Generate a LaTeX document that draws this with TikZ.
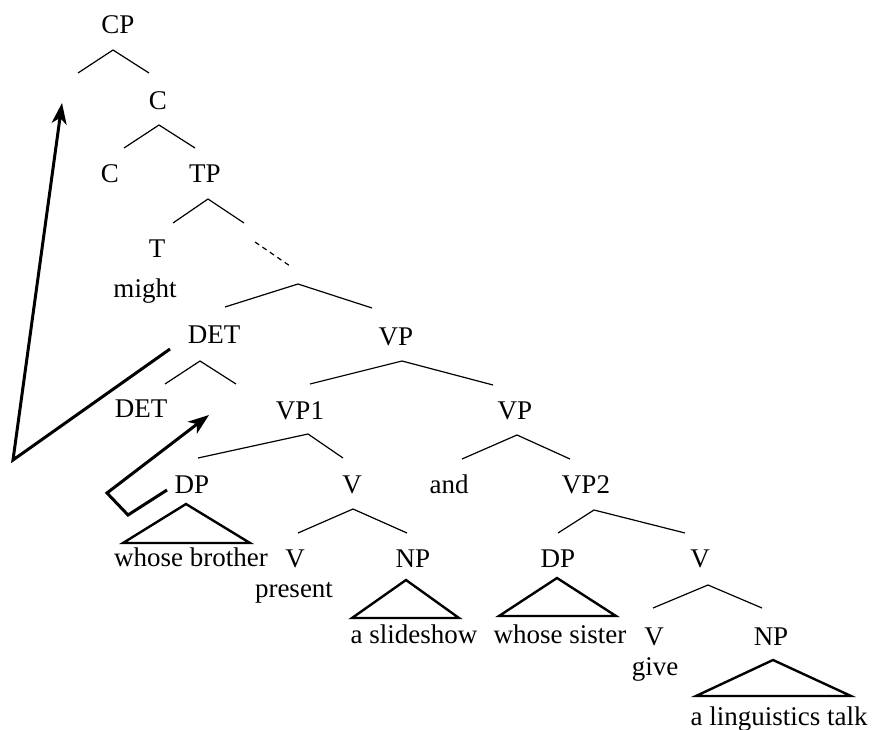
\documentclass[tikz,border=0pt]{standalone}
\usepackage{fontspec}
\setmainfont{Liberation Serif}
\usepackage{tikz}
\usetikzlibrary{arrows.meta}

\begin{document}
\begin{tikzpicture}[x=1pt, y=-1pt,
  lab/.style={anchor=base, inner sep=0pt, font=\fontsize{27}{32}\selectfont},
  branch/.style={line width=1.2pt},
  tri/.style={line width=2.4pt, line join=miter},
  move/.style={line width=3pt, line join=miter, -{Stealth[length=21pt, width=15pt, inset=6pt]}}]
  \useasboundingbox (0,0) rectangle (873,730);
  % labels
  \node[lab] (cp) at (118,34) {CP};
  \node[lab] (cbar) at (158,110) {C};
  \node[lab] (c) at (110,183) {C};
  \node[lab] (tp) at (205,183) {TP};
  \node[lab] (t) at (157,258) {T};
  \node[lab] (might) at (145,297) {might};
  \node[lab] (det) at (214,343) {DET};
  \node[lab] (vp) at (396,345) {VP};
  \node[lab] (detb) at (141,417) {DET};
  \node[lab] (vpa) at (300,419) {VP1};
  \node[lab] (vpb) at (515,419) {VP};
  \node[lab] (dpa) at (192,493) {DP};
  \node[lab] (va) at (352,493) {V};
  \node[lab] (and) at (449,493) {and};
  \node[lab] (vpc) at (586,493) {VP2};
  \node[lab] (brother) at (191,566) {whose brother};
  \node[lab] (vb) at (295,567) {V};
  \node[lab] (npa) at (413,567) {NP};
  \node[lab] (dpb) at (558,567) {DP};
  \node[lab] (vc) at (700,567) {V};
  \node[lab] (present) at (294,597) {present};
  \node[lab] (slides) at (414,643) {a slideshow};
  \node[lab] (sister) at (560,643) {whose sister};
  \node[lab] (vd) at (654,645) {V};
  \node[lab] (npb) at (771,645) {NP};
  \node[lab] (give) at (655,675) {give};
  \node[lab] (talk) at (779,725) {a linguistics talk};
  % branches
  \draw[branch] (78,73) -- (113,50) -- (149,73);
  \draw[branch] (124,148) -- (159,125) -- (195,148);
  \draw[branch] (173,223) -- (208,199) -- (244,223);
  \draw[branch, dash pattern=on 5pt off 4pt] (255,242) -- (290,266);
  \draw[branch] (225,307) -- (298,284) -- (372,308);
  \draw[branch] (165,384) -- (200,361) -- (236,384);
  \draw[branch] (310,384) -- (402,361) -- (493,385);
  \draw[branch] (198,458) -- (308,434) -- (343,458);
  \draw[branch] (462,459) -- (517,435) -- (570,459);
  \draw[branch] (298,533) -- (353,509) -- (407,533);
  \draw[branch] (558,533) -- (594,510) -- (685,533);
  \draw[branch] (653,608) -- (708,585) -- (762,608);
  % triangles
  \draw[tri] (186,504) -- (123,543) -- (250,543) -- cycle;
  \draw[tri] (406,580) -- (352,618) -- (459,618) -- cycle;
  \draw[tri] (557,578) -- (499,616) -- (616,616) -- cycle;
  \draw[tri] (773,660) -- (696,696) -- (851,696) -- cycle;
  % movement
  \coordinate (mva) at (170,349);
  \coordinate (mvb) at (13,460);
  \coordinate (mvc) at (62,103);
  \coordinate (mvd) at (167,490);
  \coordinate (mve) at (128,515);
  \coordinate (mvf) at (107,493);
  \coordinate (mvg) at (209,415);
  \draw[move] (mva) -- (mvb) -- (mvc);
  \draw[move] (mvd) -- (mve) -- (mvf) -- (mvg);
\end{tikzpicture}
\end{document}
